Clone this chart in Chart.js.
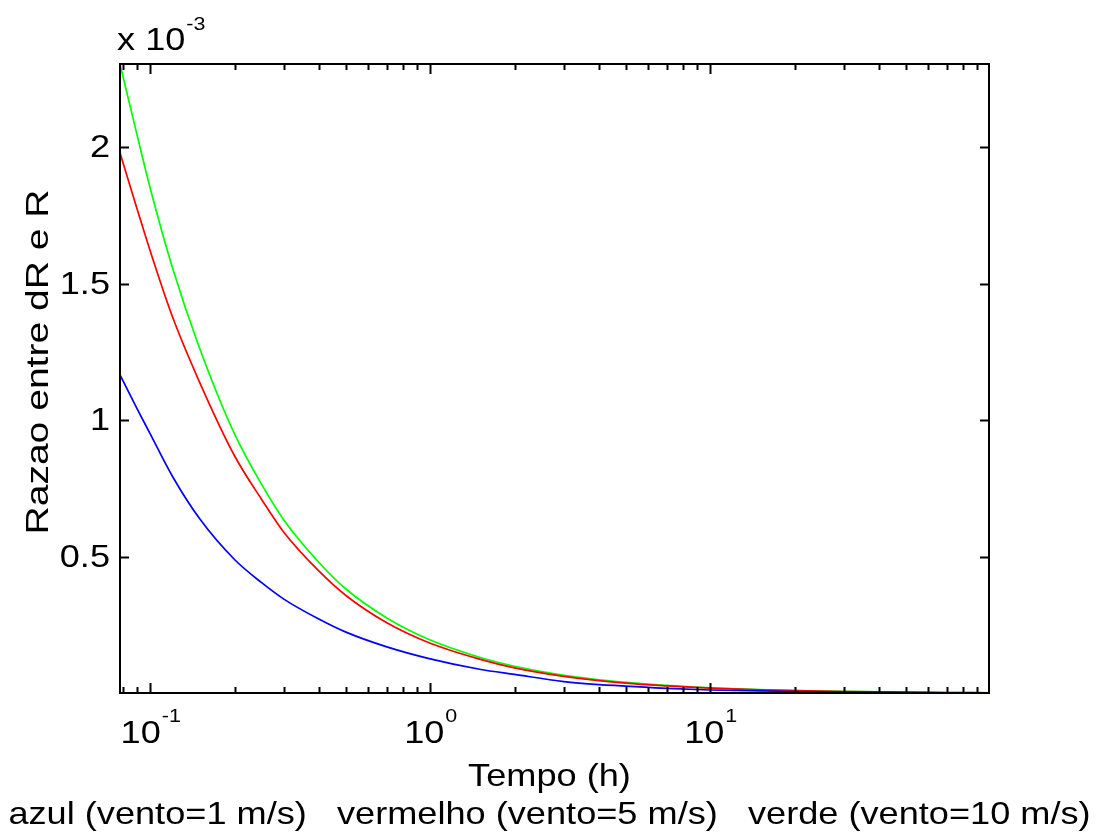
<!DOCTYPE html>
<html>
<head>
<meta charset="utf-8">
<script src="https://cdn.jsdelivr.net/npm/chart.js@4/dist/chart.umd.min.js"></script>
<style>
  html, body { margin: 0; padding: 0; background: #fff; }
  #wrap { width: 1101px; height: 836px; }
</style>
</head>
<body>
<div id="wrap"><canvas id="chart" width="1101" height="836"></canvas></div>
<script>
// tempo (h)
const tempo = [0.078, 0.09, 0.1, 0.12, 0.15, 0.2, 0.25, 0.3, 0.4, 0.5, 0.7, 1, 1.5, 2, 3, 5, 7, 10, 15, 20, 30, 50, 70, 99];
// razao dR/R, em unidades de 1e-3
const azul = [1.166, 1.04, 0.95, 0.795, 0.64, 0.49, 0.405, 0.345, 0.272, 0.224, 0.170, 0.126, 0.088, 0.069, 0.043, 0.026, 0.018, 0.012, 0.0085, 0.0065, 0.0043, 0.0027, 0.0019, 0.0014];
const vermelho = [1.98, 1.77, 1.62, 1.38, 1.14, 0.87, 0.71, 0.59, 0.448, 0.358, 0.258, 0.183, 0.125, 0.093, 0.062, 0.037, 0.027, 0.019, 0.0127, 0.0096, 0.0064, 0.0039, 0.0028, 0.002];
const verde = [2.305, 2.04, 1.85, 1.56, 1.265, 0.95, 0.765, 0.635, 0.48, 0.382, 0.276, 0.195, 0.132, 0.099, 0.066, 0.040, 0.029, 0.020, 0.0134, 0.010, 0.0067, 0.004, 0.0029, 0.002];

const xMajor = [0.1, 1, 10];
const xMajorExp = ['-1', '0', '1'];
const xMinor = [0.08, 0.09, 0.2, 0.3, 0.4, 0.5, 0.6, 0.7, 0.8, 0.9, 2, 3, 4, 5, 6, 7, 8, 9, 20, 30, 40, 50, 60, 70, 80, 90];
const yTicks = [0.5, 1, 1.5, 2];
const yTickLabels = ['0.5', '1', '1.5', '2'];

const FONT = '"Liberation Sans", Arial, Helvetica, sans-serif';
const SX = 1.13; // texto do matlab e mais largo

const pts = (ys) => tempo.map((t, i) => ({ x: t, y: ys[i] }));

// escreve texto esticado na horizontal
const wideText = (ctx, txt, x, y, align, sx = SX) => {
    const w = ctx.measureText(txt).width * sx;
    let x0 = x;
    if (align === 'center') x0 = x - w / 2;
    else if (align === 'right') x0 = x - w;
    ctx.save();
    ctx.translate(x0, y);
    ctx.scale(sx, 1);
    ctx.textAlign = 'left';
    ctx.fillText(txt, 0, 0);
    ctx.restore();
    return w;
};

const matlabAxes = {
    id: 'matlabAxes',
    afterDraw(chart) {
        const { ctx, chartArea: a, scales } = chart;
        const xs = scales.x, ys = scales.y;
        ctx.save();
        ctx.strokeStyle = '#000';
        ctx.fillStyle = '#000';

        // caixa
        ctx.lineWidth = 2;
        ctx.strokeRect(a.left, a.top, a.right - a.left, a.bottom - a.top);

        // ticks x (para dentro, em baixo e em cima)
        const tickX = (v, len) => {
            const px = Math.round(xs.getPixelForValue(v)) + 0.5;
            if (px < a.left || px > a.right) return;
            ctx.beginPath();
            ctx.moveTo(px, a.bottom); ctx.lineTo(px, a.bottom - len);
            ctx.moveTo(px, a.top); ctx.lineTo(px, a.top + len);
            ctx.stroke();
        };
        ctx.lineWidth = 2;
        xMinor.forEach((v) => tickX(v, 6));
        xMajor.forEach((v) => tickX(v, 10));

        // ticks y
        yTicks.forEach((v) => {
            const py = Math.round(ys.getPixelForValue(v)) + 0.5;
            ctx.beginPath();
            ctx.moveTo(a.left, py); ctx.lineTo(a.left + 9, py);
            ctx.moveTo(a.right, py); ctx.lineTo(a.right - 9, py);
            ctx.stroke();
        });

        // rotulos y
        ctx.font = '32px ' + FONT;
        ctx.textBaseline = 'middle';
        yTicks.forEach((v, i) => {
            wideText(ctx, yTickLabels[i], a.left - 10, ys.getPixelForValue(v) + 1, 'right');
        });

        // rotulos x: 10^n
        ctx.textBaseline = 'alphabetic';
        xMajor.forEach((v, i) => {
            const px = xs.getPixelForValue(v);
            ctx.font = '32px ' + FONT;
            const wBase = ctx.measureText('10').width * SX;
            ctx.font = '19px ' + FONT;
            const wExp = ctx.measureText(xMajorExp[i]).width * SX;
            const x0 = px - (wBase + wExp) / 2;
            ctx.font = '32px ' + FONT;
            wideText(ctx, '10', x0, a.bottom + 50, 'left');
            ctx.font = '19px ' + FONT;
            wideText(ctx, xMajorExp[i], x0 + wBase + 1, a.bottom + 29, 'left');
        });

        // multiplicador x 10^-3
        ctx.font = '32px ' + FONT;
        const wm = wideText(ctx, 'x 10', a.left - 3, 50, 'left');
        ctx.font = '19px ' + FONT;
        wideText(ctx, '-3', a.left - 3 + wm + 1, 30, 'left');

        // titulo x (duas linhas)
        ctx.font = '32px ' + FONT;
        const cx = (a.left + a.right) / 2 - 5;
        wideText(ctx, 'Tempo (h)', cx, 786, 'center');
        wideText(ctx, 'azul (vento=1 m/s)   vermelho (vento=5 m/s)   verde (vento=10 m/s)', cx, 824, 'center');

        // titulo y
        ctx.translate(39, 362);
        ctx.rotate(-Math.PI / 2);
        ctx.textBaseline = 'middle';
        wideText(ctx, 'Razao entre dR e R', 0, 0, 'center', 1.22);
        ctx.restore();
    }
};

const hiddenAxis = {
    ticks: { display: false },
    grid: { display: false, drawTicks: false },
    border: { display: false },
};

new Chart(document.getElementById('chart'), {
    type: 'line',
    data: {
        datasets: [
            { label: 'azul (vento=1 m/s)', data: pts(azul), borderColor: '#0000ff' },
            { label: 'vermelho (vento=5 m/s)', data: pts(vermelho), borderColor: '#ff0000' },
            { label: 'verde (vento=10 m/s)', data: pts(verde), borderColor: '#00ff00' },
        ],
    },
    options: {
        responsive: false,
        animation: false,
        devicePixelRatio: 1,
        layout: { padding: { left: 120, top: 64, right: 112, bottom: 143 } },
        elements: {
            point: { radius: 0 },
            line: { borderWidth: 1.7, cubicInterpolationMode: 'monotone', fill: false },
        },
        plugins: { legend: { display: false }, tooltip: { enabled: false } },
        scales: {
            x: { type: 'logarithmic', min: 0.078, max: 99, ...hiddenAxis },
            y: { type: 'linear', min: 0.001, max: 2.305, ...hiddenAxis },
        },
    },
    plugins: [matlabAxes],
});
</script>
</body>
</html>
